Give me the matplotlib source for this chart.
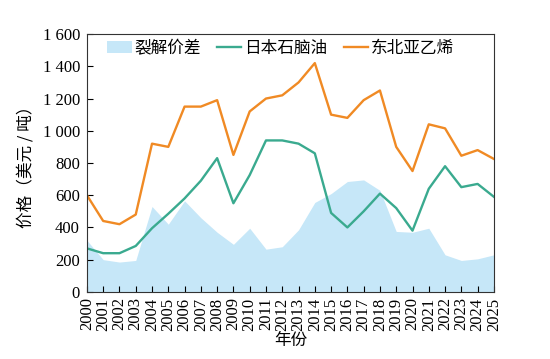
import matplotlib
matplotlib.use('Agg')
import matplotlib.pyplot as plt

plt.rcParams['font.family'] = ['Liberation Serif', 'Noto Sans CJK SC']

# Data
years = list(range(2000, 2026))
crack_spread = [320, 200, 185, 195, 530, 420, 565, 460, 370, 295, 395, 265, 280,
                385, 555, 610, 685, 695, 630, 375, 370, 395, 230, 195, 205, 230]
naphtha_japan = [270, 240, 240, 285, 395, 485, 580, 690, 830, 550, 725, 940, 940,
                 920, 860, 490, 400, 500, 610, 520, 380, 640, 780, 650, 670, 590]
ethylene_nea = [600, 440, 420, 480, 920, 900, 1150, 1150, 1190, 850, 1120, 1200, 1220,
                1300, 1420, 1100, 1080, 1190, 1250, 900, 750, 1040, 1015, 845, 880, 825]

fig = plt.figure(figsize=(5.5, 3.59), dpi=100)
ax = fig.add_axes([0.158, 0.187, 0.74, 0.718])

ax.fill_between(years, crack_spread, 0, color='#c6e7f8', linewidth=0, label='裂解价差')
ax.plot(years, naphtha_japan, color='#3aaa8f', linewidth=1.7, label='日本石脑油')
ax.plot(years, ethylene_nea, color='#f08a24', linewidth=1.7, label='东北亚乙烯')

ax.set_xlim(2000, 2025)
ax.set_ylim(0, 1600)
ax.set_xticks(years)
ax.set_xticklabels([str(y) for y in years], rotation=90, fontsize=12)
ax.set_yticks(range(0, 1601, 200))
ax.set_yticklabels(['0', '200', '400', '600', '800', '1 000', '1 200', '1 400', '1 600'],
                   fontsize=12)
ax.tick_params(direction='in', length=4, width=0.8)
ax.tick_params(axis='x', pad=4)
ax.tick_params(axis='y', pad=5)
for s in ax.spines.values():
    s.set_linewidth(0.8)
    s.set_color('#333333')

ax.set_xlabel('年份', fontsize=12, family=['Noto Sans CJK SC'], labelpad=1)
ax.set_ylabel('价格（美元 / 吨）', fontsize=12, family=['Noto Sans CJK SC'], labelpad=6)

ax.legend(loc='upper left', ncol=3, frameon=False,
          prop={'family': ['Noto Sans CJK SC'], 'size': 12},
          handlelength=1.45, handletextpad=0.15, columnspacing=1.0,
          borderaxespad=0.1, bbox_to_anchor=(0.03, 1.01))

fig.savefig('out.png', dpi=100)
